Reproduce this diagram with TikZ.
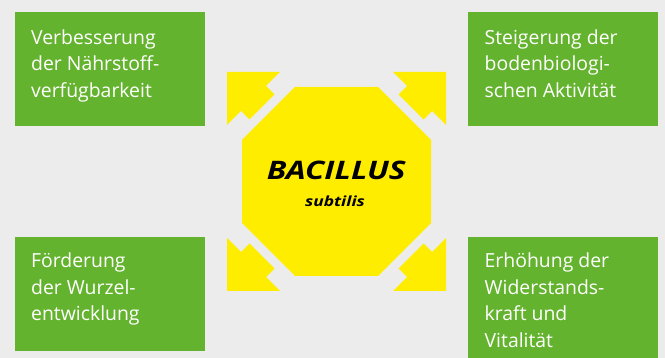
\documentclass[tikz,border=0pt]{standalone}
\usepackage{fontspec}
\setmainfont{Open Sans}
\definecolor{bg}{HTML}{ECECEC}
\definecolor{grn}{HTML}{64B32E}
\definecolor{ylw}{HTML}{FFED00}
\begin{document}
\begin{tikzpicture}[x=1pt,y=-1pt,
  box/.style={fill=grn, draw=none, inner sep=0pt, anchor=north west},
  lbl/.style={anchor=base west, inner sep=0pt, align=left, text=white, font=\fontsize{19.4}{26.5}\selectfont},
  arr/.style={fill=ylw, draw=none},
  ctr/.style={anchor=base, inner sep=0pt, xscale=1.24}]
\fill[bg] (0,0) rectangle (665,358);
\useasboundingbox (0,0) rectangle (665,358);
% green boxes
\node[box, minimum width=190pt, minimum height=114pt] (b1) at (15,12) {};
\node[box, minimum width=190pt, minimum height=114pt] (b2) at (468,12) {};
\node[box, minimum width=190pt, minimum height=114pt] (b3) at (15,237) {};
\node[box, minimum width=190pt, minimum height=121pt] (b4) at (468,237) {};
% octagon
\fill[ylw] (295,87) -- (378,87) -- (431,140) -- (431,223) -- (378,276) -- (295,276) -- (242,223) -- (242,140) -- cycle;
% arrows
\fill[arr] (227,72) -- (280,72) -- (266,86) -- (274.5,94.5) -- (249.5,119.5) -- (241,111) -- (227,125) -- cycle;
\fill[arr] (446,72) -- (393,72) -- (407,86) -- (398.5,94.5) -- (423.5,119.5) -- (432,111) -- (446,125) -- cycle;
\fill[arr] (227,291) -- (280,291) -- (266,277) -- (274.5,268.5) -- (249.5,243.5) -- (241,252) -- (227,238) -- cycle;
\fill[arr] (446,291) -- (393,291) -- (407,277) -- (398.5,268.5) -- (423.5,243.5) -- (432,252) -- (446,238) -- cycle;
% center text
\node[ctr, font=\fontsize{25.5}{28}\selectfont\bfseries\itshape] (bac) at (336.3,179.3) {BACILLUS};
\node[ctr, font=\fontsize{14}{16}\selectfont\bfseries\itshape] (sub) at (335,206.7) {subtilis};
% labels (anchored at the baseline of the last line)
\node[lbl] (t1) at (31,97.3) {Verbesserung\\der Nährstoff-\\verfügbarkeit};
\node[lbl] (t2) at (484.5,97.3) {Steigerung der\\bodenbiologi-\\schen Aktivität};
\node[lbl] (t3) at (31,320.7) {Förderung\\der Wurzel-\\entwicklung};
\node[lbl] (t4) at (484.5,347.2) {Erhöhung der\\Widerstands-\\kraft und\\Vitalität};
\end{tikzpicture}
\end{document}
